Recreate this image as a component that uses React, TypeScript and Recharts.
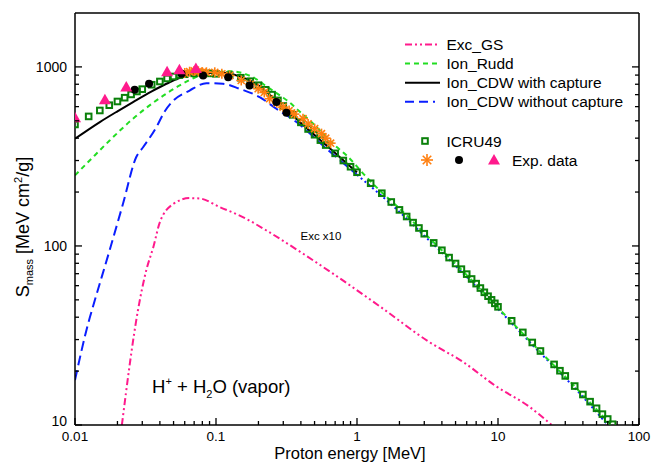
import React from "react";
import { ComposedChart, Line, Scatter, XAxis, YAxis } from "recharts";

// ---------- data ----------
const EXC_E = [0.0215, 0.028, 0.032, 0.036, 0.04, 0.05, 0.065, 0.077, 0.106, 0.155, 0.228, 0.393, 0.676, 1.45, 3.27, 5.65, 9.75, 16.8, 24];
const EXC_S = [10, 44, 73, 99, 136, 172, 185, 184, 165, 145, 122, 93, 70, 46, 29, 22.5, 16.4, 12.6, 10];

const RUDD_E = [0.01, 0.0127, 0.0176, 0.0258, 0.0378, 0.0553, 0.0766, 0.1, 0.13, 0.16, 0.2, 0.222, 0.291, 0.33, 0.372, 0.475, 0.695, 0.841, 1.17, 1.5, 2, 3, 5, 10, 20, 30, 50, 62];
const RUDD_S = [248, 300, 388, 514, 650, 788, 895, 935, 945, 915, 840, 790, 684, 636, 584, 492, 365, 321, 242, 199, 162, 118, 79.5, 45.2, 25.6, 18.6, 12.2, 10.2];

const CDW_CAP_E = [0.01, 0.015, 0.02, 0.0258, 0.035, 0.0445, 0.0617, 0.0855, 0.11, 0.147, 0.2, 0.24, 0.3, 0.4, 0.5, 0.6, 0.7, 0.8, 0.9, 1.0];
const CDW_CAP_S = [397, 492, 565, 636, 730, 805, 896, 925, 928, 885, 790, 700, 595, 486, 416, 367, 330, 301, 277, 258];

const CDW_NOCAP_E = [0.01, 0.0124, 0.0134, 0.0176, 0.0219, 0.0272, 0.0304, 0.0378, 0.043, 0.0495, 0.065, 0.0855, 0.112, 0.147, 0.204, 0.268, 0.372, 0.607, 1.0];
const CDW_NOCAP_S = [17.8, 36.9, 45.7, 94.6, 172, 314, 356, 461, 560, 645, 738, 811, 805, 755, 678, 584, 492, 350, 250];

const CDW_NOCAP_HI_E = [1.0, 1.5, 2, 3, 5, 10, 20, 30, 50, 60];
const CDW_NOCAP_HI_S = [250, 190, 155, 114, 77.5, 44.5, 25.2, 18.3, 11.8, 10];

const ICRU_E = [0.01, 0.0125, 0.015, 0.0175, 0.02, 0.0225, 0.025, 0.0275, 0.03, 0.035, 0.04, 0.045, 0.05, 0.055, 0.06, 0.07, 0.08, 0.09, 0.1, 0.125, 0.15, 0.175, 0.2, 0.225, 0.25, 0.275, 0.3, 0.35, 0.4, 0.45, 0.5, 0.55, 0.6, 0.7, 0.8, 0.9, 1, 1.25, 1.5, 1.75, 2, 2.25, 2.5, 2.75, 3, 3.5, 4, 4.5, 5, 5.5, 6, 6.5, 7, 7.5, 8, 8.5, 9, 9.5, 10, 12.5, 15, 17.5, 20, 25, 27.5, 30, 35, 40, 45, 50, 55, 60, 65];
const ICRU_S = [477, 529, 571, 611, 641, 673, 702, 729, 751, 795, 829, 862, 884, 900, 910, 920, 922, 920, 915, 900, 870, 832, 790, 745, 700, 650, 605, 540, 490, 450, 418, 390, 366, 329, 300, 277, 258, 224, 197, 176, 159, 146, 135, 126, 117, 104, 94.6, 86.1, 79.8, 74.2, 69.6, 65.4, 61.6, 58.2, 55.1, 52.4, 50, 47.8, 45.7, 38.2, 32.9, 28.9, 25.9, 21.8, 20.1, 18.8, 16.5, 14.8, 13.5, 12.4, 11.5, 10.8, 10.1];

const EXP_STAR_E = [0.06, 0.065, 0.07, 0.075, 0.08, 0.0855, 0.098, 0.11, 0.125, 0.151, 0.175, 0.199, 0.22, 0.24, 0.27, 0.299, 0.33, 0.36, 0.414, 0.45, 0.501, 0.56, 0.6, 0.65];
const EXP_STAR_S = [925, 940, 950, 945, 935, 933, 933, 915, 895, 840, 800, 755, 720, 664, 630, 596, 570, 545, 514, 480, 452, 424, 400, 375];

const EXP_DOT_E = [0.0265, 0.0335, 0.0569, 0.081, 0.122, 0.173, 0.268, 0.316];
const EXP_DOT_S = [745, 805, 915, 896, 876, 788, 636, 555];

const EXP_TRI_E = [0.01, 0.0163, 0.0231, 0.045, 0.055, 0.072];
const EXP_TRI_S = [520, 655, 771, 940, 965, 980];

const X_MAJOR = [0.01, 0.1, 1, 10, 100];
const X_MAJOR_LABELS = ["0.01", "0.1", "1", "10", "100"];
const Y_MAJOR = [10, 100, 1000];
const Y_MAJOR_LABELS = ["10", "100", "1000"];
const MANTISSAS = [1, 2, 3, 4, 5, 6, 7, 8, 9];

// ---------- helpers ----------
const pairs = (e: number[], s: number[]) => e.map((x, i) => ({ x, y: s[i] }));
const excData = pairs(EXC_E, EXC_S);
const ruddData = pairs(RUDD_E, RUDD_S);
const capData = pairs(CDW_CAP_E, CDW_CAP_S);
const nocapData = pairs(CDW_NOCAP_E, CDW_NOCAP_S);
const nocapHiData = pairs(CDW_NOCAP_HI_E, CDW_NOCAP_HI_S);
const icruData = pairs(ICRU_E, ICRU_S);
const starData = pairs(EXP_STAR_E, EXP_STAR_S);
const dotData = pairs(EXP_DOT_E, EXP_DOT_S);
const triData = pairs(EXP_TRI_E, EXP_TRI_S);

const xTicks: number[] = [];
X_MAJOR.slice(0, -1).forEach((d) => MANTISSAS.forEach((m) => xTicks.push(+(m * d).toPrecision(6))));
xTicks.push(100);
const yTicks: number[] = [];
Y_MAJOR.forEach((d) => MANTISSAS.forEach((m) => yTicks.push(+(m * d).toPrecision(6))));
const yTicksIn = yTicks.filter((v) => v < 2000);

const majorIndex = (v: number, majors: number[]) => majors.findIndex((m) => Math.abs(m - v) / m < 1e-6);

const FONT = "'Liberation Sans', Arial, sans-serif";
const C_PINK = "#ff1a8c";
const C_RUDD = "#22dd22";
const C_BLUE = "#0a1eff";
const C_ICRU = "#0a800a";
const C_ORANGE = "#ff7f10";
const MAJ = 7;
const MIN = 4;
const AX = { stroke: "#000", strokeWidth: 1.5 };

const BottomTick = (p: any) => {
  const { x, y, payload } = p;
  const i = majorIndex(payload.value, X_MAJOR);
  return (
    <g>
      <line x1={x} x2={x} y1={y} y2={y - (i >= 0 ? MAJ : MIN)} stroke="#000" strokeWidth={1.3} />
      {i >= 0 && (
        <text x={x} y={y + 16} textAnchor="middle" fontSize={13.5} fontFamily={FONT} fill="#000">
          {X_MAJOR_LABELS[i]}
        </text>
      )}
    </g>
  );
};
const TopTick = (p: any) => {
  const { x, y, payload } = p;
  const i = majorIndex(payload.value, X_MAJOR);
  return <line x1={x} x2={x} y1={y} y2={y + (i >= 0 ? MAJ : MIN)} stroke="#000" strokeWidth={1.3} />;
};
const LeftTick = (p: any) => {
  const { x, y, payload } = p;
  const i = majorIndex(payload.value, Y_MAJOR);
  return (
    <g>
      <line x1={x} x2={x + (i >= 0 ? MAJ : MIN)} y1={y} y2={y} stroke="#000" strokeWidth={1.3} />
      {i >= 0 && (
        <text x={x - 8} y={y + (i === 0 ? 0.5 : 5)} textAnchor="end" fontSize={14} fontFamily={FONT} fill="#000">
          {Y_MAJOR_LABELS[i]}
        </text>
      )}
    </g>
  );
};
const RightTick = (p: any) => {
  const { x, y, payload } = p;
  const i = majorIndex(payload.value, Y_MAJOR);
  return <line x1={x} x2={x - (i >= 0 ? MAJ : MIN)} y1={y} y2={y} stroke="#000" strokeWidth={1.3} />;
};

const squarePath = (cx: number, cy: number) => (
  <rect x={cx - 2.8} y={cy - 2.8} width={5.6} height={5.6} fill="none" stroke={C_ICRU} strokeWidth={2} />
);
const starPath = (cx: number, cy: number, r = 5) => {
  const d = r * 0.707;
  return (
    <g stroke={C_ORANGE} strokeWidth={1.6}>
      <line x1={cx - r} x2={cx + r} y1={cy} y2={cy} />
      <line x1={cx} x2={cx} y1={cy - r} y2={cy + r} />
      <line x1={cx - d} x2={cx + d} y1={cy - d} y2={cy + d} />
      <line x1={cx - d} x2={cx + d} y1={cy + d} y2={cy - d} />
    </g>
  );
};
const dotPath = (cx: number, cy: number) => <circle cx={cx} cy={cy} r={4} fill="#000" />;
const triPath = (cx: number, cy: number) => (
  <polygon points={`${cx - 6},${cy + 4.5} ${cx + 6},${cy + 4.5} ${cx},${cy - 6}`} fill={C_PINK} />
);

const SquareShape = (p: any) => squarePath(p.cx, p.cy);
const StarShape = (p: any) => starPath(p.cx, p.cy);
const DotShape = (p: any) => dotPath(p.cx, p.cy);
const TriShape = (p: any) => triPath(p.cx, p.cy);

const DASH_EXC = "7 3 2 3 2 3";
const DASH_RUDD = "5 4";
const DASH_BLUE = "10 5";
const DASH_BLUE_HI = "2 3";

const legendRows = [
  { label: "Exc_GS", color: C_PINK, dash: DASH_EXC, y: 44.5 },
  { label: "Ion_Rudd", color: C_RUDD, dash: DASH_RUDD, y: 63.5 },
  { label: "Ion_CDW with capture", color: "#000", dash: undefined, y: 82.7 },
  { label: "Ion_CDW without capture", color: C_BLUE, dash: "9 5 9 5 2 5", y: 101.7 },
];

export default function App() {
  return (
    <div style={{ position: "absolute", left: 0, top: 0, width: 653, height: 464, background: "#fff" }}>
      <ComposedChart width={653} height={464} margin={{ top: 12, right: 13, bottom: 0, left: 0 }}>
        <XAxis
          dataKey="x"
          type="number"
          scale="log"
          domain={[0.01, 100]}
          allowDataOverflow
          ticks={xTicks}
          interval={0}
          height={39}
          tickSize={0}
          tickMargin={0}
          tickLine={false}
          axisLine={AX}
          tick={<BottomTick />}
        />
        <XAxis
          xAxisId="top"
          orientation="top"
          type="number"
          scale="log"
          domain={[0.01, 100]}
          allowDataOverflow
          ticks={xTicks}
          interval={0}
          height={1}
          tickSize={0}
          tickMargin={0}
          tickLine={false}
          axisLine={AX}
          tick={<TopTick />}
        />
        <YAxis
          type="number"
          scale="log"
          domain={[10, 2000]}
          allowDataOverflow
          ticks={yTicksIn}
          interval={0}
          width={75}
          tickSize={0}
          tickMargin={0}
          tickLine={false}
          axisLine={AX}
          tick={<LeftTick />}
        />
        <YAxis
          yAxisId="right"
          orientation="right"
          type="number"
          scale="log"
          domain={[10, 2000]}
          allowDataOverflow
          ticks={yTicksIn}
          interval={0}
          width={1}
          tickSize={0}
          tickMargin={0}
          tickLine={false}
          axisLine={AX}
          tick={<RightTick />}
        />
        <Scatter data={icruData} dataKey="y" shape={SquareShape} isAnimationActive={false} />
        <Scatter data={starData} dataKey="y" shape={StarShape} isAnimationActive={false} />
        <Line data={excData} dataKey="y" type="monotone" stroke={C_PINK} strokeWidth={2} strokeDasharray={DASH_EXC} dot={false} isAnimationActive={false} />
        <Line data={nocapData} dataKey="y" type="monotone" stroke={C_BLUE} strokeWidth={2} strokeDasharray={DASH_BLUE} dot={false} isAnimationActive={false} />
        <Line data={nocapHiData} dataKey="y" type="monotone" stroke={C_BLUE} strokeWidth={2} strokeDasharray={DASH_BLUE_HI} dot={false} isAnimationActive={false} />
        <Line data={ruddData} dataKey="y" type="monotone" stroke={C_RUDD} strokeWidth={2} strokeDasharray={DASH_RUDD} dot={false} isAnimationActive={false} />
        <Line data={capData} dataKey="y" type="monotone" stroke="#000" strokeWidth={2} dot={false} isAnimationActive={false} />
        <Scatter data={dotData} dataKey="y" shape={DotShape} isAnimationActive={false} />
        <Scatter data={triData} dataKey="y" shape={TriShape} isAnimationActive={false} />
      </ComposedChart>
      <svg width={653} height={464} style={{ position: "absolute", left: 0, top: 0, pointerEvents: "none" }} fontFamily={FONT}>
        {legendRows.map((r) => (
          <g key={r.label}>
            <line x1={405} x2={440} y1={r.y} y2={r.y} stroke={r.color} strokeWidth={2} strokeDasharray={r.dash} />
            <text x={446.5} y={r.y + 5.5} fontSize={15.5} fill="#000">{r.label}</text>
          </g>
        ))}
        {squarePath(425, 141)}
        <text x={446.5} y={146.5} fontSize={15.5} fill="#000">ICRU49</text>
        {starPath(427, 160, 6)}
        {dotPath(459, 160)}
        {triPath(494, 160)}
        <text x={512} y={165.5} fontSize={15.5} fill="#000">Exp. data</text>

        <text x={300.5} y={240} fontSize={11.5} fill="#000">Exc x10</text>

        <text x={152} y={393} fontSize={18.5} fill="#000">
          H<tspan fontSize={11} dy={-8}>+</tspan>
          <tspan dy={8}> + H</tspan>
          <tspan fontSize={11} dy={5}>2</tspan>
          <tspan dy={-5}>O (vapor)</tspan>
        </text>

        <text x={350} y={459} fontSize={16.5} textAnchor="middle" fill="#000">Proton energy [MeV]</text>

        <text transform="translate(28.5,227) rotate(-90)" fontSize={18} textAnchor="middle" fill="#000">
          S<tspan fontSize={11} dy={4}>mass</tspan>
          <tspan dy={-4}> [MeV cm</tspan>
          <tspan fontSize={11} dy={-7}>2</tspan>
          <tspan dy={7}>/g]</tspan>
        </text>
      </svg>
    </div>
  );
}
